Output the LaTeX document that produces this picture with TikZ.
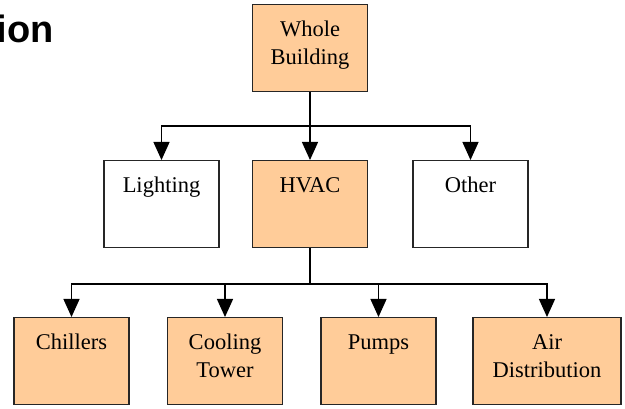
\documentclass[tikz,border=0pt]{standalone}
\usepackage{fontspec}
\setmainfont{Liberation Serif}
\newfontfamily\headfont{Liberation Sans}
\usetikzlibrary{arrows.meta}
\definecolor{peach}{RGB}{255,204,153}

\begin{document}
\begin{tikzpicture}[x=1pt, y=1pt,
    box/.style={draw=black!85, line width=1.1pt, anchor=north, minimum width=115pt,
        text width=107pt, align=center, inner xsep=4pt, inner ysep=0pt,
        font=\fontsize{22.5}{28}\selectfont, text height=32pt, text depth=55pt},
    sub/.style={box, fill=peach},
    link/.style={line width=1.3pt},
    arrow/.style={link, -{Triangle[length=18pt, width=16pt]}}]
    \useasboundingbox (0,0) rectangle (625,-409);
    % cut-off heading
    \node[anchor=base east, inner sep=0pt,
        font=\headfont\bfseries\fontsize{38}{38}\selectfont] (head) at (54,-43) {ion};
    % top level
    \node[sub] (whole) at (310,-4) {Whole\\Building};
    % second level
    \node[box] (lighting) at (161.5,-160) {Lighting};
    \node[sub] (hvac) at (310,-160) {HVAC};
    \node[box] (other) at (470.5,-160) {Other};
    % third level
    \node[sub] (chillers) at (71.5,-317) {Chillers};
    \node[sub] (cooling) at (225,-317) {Cooling\\Tower};
    \node[sub] (pumps) at (378.5,-317) {Pumps};
    \node[sub, minimum width=148pt, text width=140pt] (air) at (547,-317) {Air\\Distribution};
    % connectors
    \draw[arrow] (whole.south) -- (hvac.north);
    \foreach \n in {lighting, other} {
        \draw[arrow] (whole.south) -- ++(0,-34) -| (\n.north);
    }
    \foreach \n in {chillers, cooling, pumps, air} {
        \draw[arrow] (hvac.south) -- ++(0,-36) -| (\n.north);
    }
\end{tikzpicture}
\end{document}
